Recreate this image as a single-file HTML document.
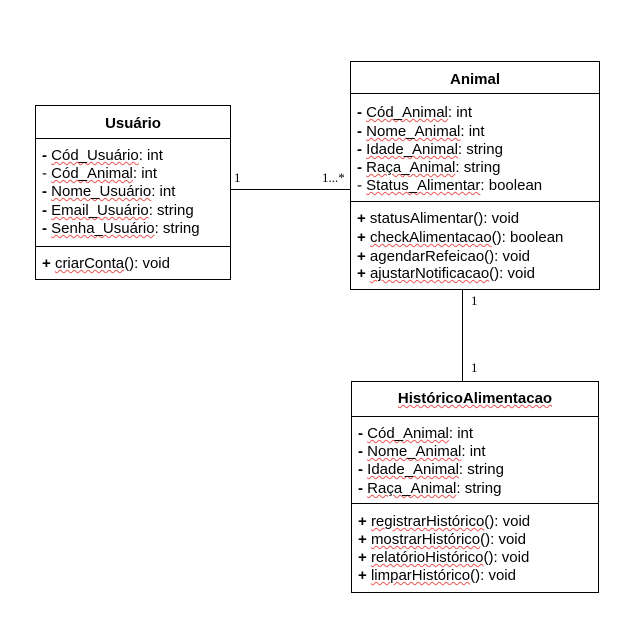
<!DOCTYPE html>
<html><head><meta charset="utf-8"><style>
body{margin:0;background:#fff;}
#c{position:relative;width:636px;height:632px;overflow:hidden;font-family:"Liberation Sans",Arial,sans-serif;font-size:15px;color:#000;}
.box{position:absolute;border:1px solid #000;box-sizing:border-box;background:#fff;}
.hl{position:absolute;left:0;right:0;border-top:1px solid #000;}
.t{position:absolute;white-space:nowrap;line-height:18px;height:18px;}
.h{font-weight:bold;text-align:center;left:0;right:0;}
u{text-decoration:underline wavy #e55 1px;text-underline-offset:1px;text-decoration-thickness:1px;}
.s{font-family:"Liberation Serif",serif;font-size:13px;position:absolute;line-height:14px;}
.b{font-weight:bold;}
</style></head><body><div id="c">
<div style="position:absolute;left:230px;top:189px;width:120px;height:1px;background:#000"></div>
<div style="position:absolute;left:462px;top:289px;width:1px;height:92px;background:#000"></div>
<div class="s" style="left:234px;top:171px">1</div>
<div class="s" style="left:322px;top:171px">1...*</div>
<div class="s" style="left:471px;top:294px">1</div>
<div class="s" style="left:471px;top:361px">1</div>

<div class="box" style="left:35px;top:105px;width:196px;height:175px">
<div class="t h" style="top:9px">Usuário</div>
<div class="hl" style="top:32px"></div>
<div class="hl" style="top:140px"></div>
<div class="t" style="left:6px;top:41px"><span class="b">-</span> <u>Cód_Usuário</u>: int</div>
<div class="t" style="left:6px;top:59px">- <u>Cód_Animal</u>: int</div>
<div class="t" style="left:6px;top:77px"><span class="b">-</span> <u>Nome_Usuário</u>: int</div>
<div class="t" style="left:6px;top:96px"><span class="b">-</span> <u>Email_Usuário</u>: string</div>
<div class="t" style="left:6px;top:114px"><span class="b">-</span> <u>Senha_Usuário</u>: string</div>
<div class="t" style="left:6px;top:149px"><span class="b">+</span> <u>criarConta</u>(): void</div>
</div>

<div class="box" style="left:350px;top:61px;width:250px;height:229px">
<div class="t h" style="top:9px">Animal</div>
<div class="hl" style="top:31px"></div>
<div class="hl" style="top:139px"></div>
<div class="t" style="left:6px;top:42px"><span class="b">-</span> <u>Cód_Animal</u>: int</div>
<div class="t" style="left:6px;top:61px"><span class="b">-</span> <u>Nome_Animal</u>: int</div>
<div class="t" style="left:6px;top:79px"><span class="b">-</span> <u>Idade_Animal</u>: string</div>
<div class="t" style="left:6px;top:97px"><span class="b">-</span> <u>Raça_Animal</u>: string</div>
<div class="t" style="left:6px;top:115px">- <u>Status_Alimentar</u>: boolean</div>
<div class="t" style="left:6px;top:148px"><span class="b">+</span> statusAlimentar(): void</div>
<div class="t" style="left:6px;top:167px"><span class="b">+</span> <u>checkAlimentacao</u>(): boolean</div>
<div class="t" style="left:6px;top:186px"><span class="b">+</span> agendarRefeicao(): void</div>
<div class="t" style="left:6px;top:203px"><span class="b">+</span> <u>ajustarNotificacao</u>(): void</div>
</div>

<div class="box" style="left:351px;top:381px;width:248px;height:212px">
<div class="t h" style="top:8px"><u>HistóricoAlimentacao</u></div>
<div class="hl" style="top:34px"></div>
<div class="hl" style="top:121px"></div>
<div class="t" style="left:6px;top:43px"><span class="b">-</span> <u>Cód_Animal</u>: int</div>
<div class="t" style="left:6px;top:61px"><span class="b">-</span> <u>Nome_Animal</u>: int</div>
<div class="t" style="left:6px;top:79px"><span class="b">-</span> <u>Idade_Animal</u>: string</div>
<div class="t" style="left:6px;top:98px"><span class="b">-</span> <u>Raça_Animal</u>: string</div>
<div class="t" style="left:6px;top:131px"><span class="b">+</span> <u>registrarHistórico</u>(): void</div>
<div class="t" style="left:6px;top:149px"><span class="b">+</span> <u>mostrarHistórico</u>(): void</div>
<div class="t" style="left:6px;top:167px"><span class="b">+</span> <u>relatórioHistórico</u>(): void</div>
<div class="t" style="left:6px;top:185px"><span class="b">+</span> <u>limparHistórico</u>(): void</div>
</div>
</div></body></html>
